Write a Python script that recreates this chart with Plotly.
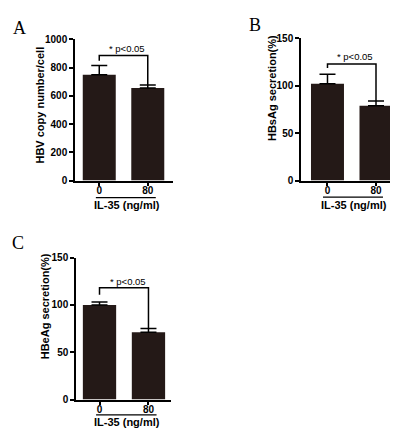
import plotly.graph_objects as go

# ---- data ----
doses = ["0", "80"]
hbv_copy = [750, 655]
hbv_copy_err = [65, 21]
hbsag = [102, 79]
hbsag_err = [10, 5]
hbeag = [100, 71]
hbeag_err = [3, 4]
p_label = "* p&lt;0.05"
x_title = "IL-35 (ng/ml)"

W, H = 398, 429
BAR = "#241917"
FONT = "Arial, Liberation Sans, sans-serif"


def fx(p):
    return p / W


def fy(p):
    return 1 - p / H


panels = [
    dict(vals=hbv_copy, errs=hbv_copy_err, xdom=(67, 165), ydom=(172, 27),
         xr=[-0.5, 1.52], yr=[0, 1000], dtick=200, ytitle="HBV copy number/cell",
         ytitle_xy=(32, 95), letter="A", letter_xy=(11, 15.5),
         br_top=886, br_left=848, txt_y=938, txt_x=0.57,
         ul_y=189.5, ul_x=(-0.07, 1.165), xt_y=197, xt_x=0.57),
    dict(vals=hbsag, errs=hbsag_err, xdom=(293, 394), ydom=(172, 26),
         xr=[-0.546, 1.536], yr=[0, 150], dtick=50, ytitle="HBsAg secretion(%)",
         ytitle_xy=(264, 77), letter="B", letter_xy=(247, 12),
         br_top=123, br_left=118.6, txt_y=130.5, txt_x=0.56,
         ul_y=189, ul_x=(-0.093, 1.144), xt_y=197, xt_x=0.55),
    dict(vals=hbeag, errs=hbeag_err, xdom=(68, 163), ydom=(396.7, 251),
         xr=[-0.48, 1.46], yr=[0, 150], dtick=50, ytitle="HBeAg secretion(%)",
         ytitle_xy=(37, 301), letter="C", letter_xy=(10, 236),
         br_top=118, br_left=110.7, txt_y=124.7, txt_x=0.58,
         ul_y=412.5, ul_x=(-0.07, 1.165), xt_y=420, xt_x=0.57),
]

fig = go.Figure()
shapes = []
annotations = []
xpos = list(range(len(doses)))

for i, p in enumerate(panels):
    sfx = "" if i == 0 else str(i + 1)
    xa, ya = "x" + sfx, "y" + sfx
    fig.add_trace(go.Bar(
        x=xpos, y=p["vals"], width=0.68, marker=dict(color=BAR, line=dict(width=0)),
        error_y=dict(type="data", array=p["errs"], arrayminus=[0] * len(p["errs"]),
                     symmetric=False, color="black", thickness=1.5, width=8),
        xaxis=xa, yaxis=ya, showlegend=False, hoverinfo="skip"))
    axis_common = dict(showgrid=False, zeroline=False, showline=True, linecolor="black",
                       linewidth=1.5, ticks="outside", ticklen=4, tickwidth=1.5,
                       tickcolor="black",
                       tickfont=dict(family=FONT, size=10, color="black", weight="bold"))
    fig.layout["xaxis" + sfx] = dict(
        domain=[fx(p["xdom"][0]), fx(p["xdom"][1])], range=p["xr"], anchor=ya,
        tickvals=xpos, ticktext=doses, fixedrange=True, ticklabelstandoff=-4,
        **axis_common)
    fig.layout["yaxis" + sfx] = dict(
        domain=[fy(p["ydom"][0]), fy(p["ydom"][1])], range=p["yr"], anchor=xa,
        tick0=0, dtick=p["dtick"], fixedrange=True, **axis_common)

    # significance bracket
    right_end = p["vals"][1] + p["errs"][1]
    shapes.append(dict(type="path", xref=xa, yref=ya,
                       path=f"M 0,{p['br_left']} L 0,{p['br_top']} L 1,{p['br_top']} L 1,{right_end}",
                       line=dict(color="black", width=1.5)))
    annotations.append(dict(xref=xa, yref=ya, x=p["txt_x"], y=p["txt_y"], text=p_label,
                            showarrow=False, xanchor="center", yanchor="middle",
                            font=dict(family=FONT, size=9.5, color="black")))
    # underline + x title
    shapes.append(dict(type="line", xref=xa, yref="paper", x0=p["ul_x"][0], x1=p["ul_x"][1],
                       y0=fy(p["ul_y"]), y1=fy(p["ul_y"]), line=dict(color="black", width=1.2)))
    annotations.append(dict(xref=xa, yref="paper", x=p["xt_x"], y=fy(p["xt_y"]), text=x_title,
                            showarrow=False, xanchor="center", yanchor="middle",
                            font=dict(family=FONT, size=11, color="black", weight="bold")))
    # y title
    annotations.append(dict(xref="paper", yref="paper", x=fx(p["ytitle_xy"][0]),
                            y=fy(p["ytitle_xy"][1]), text=p["ytitle"], textangle=-90,
                            showarrow=False, xanchor="center", yanchor="middle",
                            font=dict(family=FONT, size=11, color="black", weight="bold")))
    # panel letter
    annotations.append(dict(xref="paper", yref="paper", x=fx(p["letter_xy"][0]),
                            y=fy(p["letter_xy"][1]), text=p["letter"], showarrow=False,
                            xanchor="center", yanchor="middle",
                            font=dict(family="Liberation Serif, Times New Roman, serif",
                                      size=18, color="black")))

fig.update_layout(width=W, height=H, margin=dict(l=0, r=0, t=0, b=0),
                  paper_bgcolor="white", plot_bgcolor="white",
                  shapes=shapes, annotations=annotations)

fig.write_html("out.html", config={"displayModeBar": False})
